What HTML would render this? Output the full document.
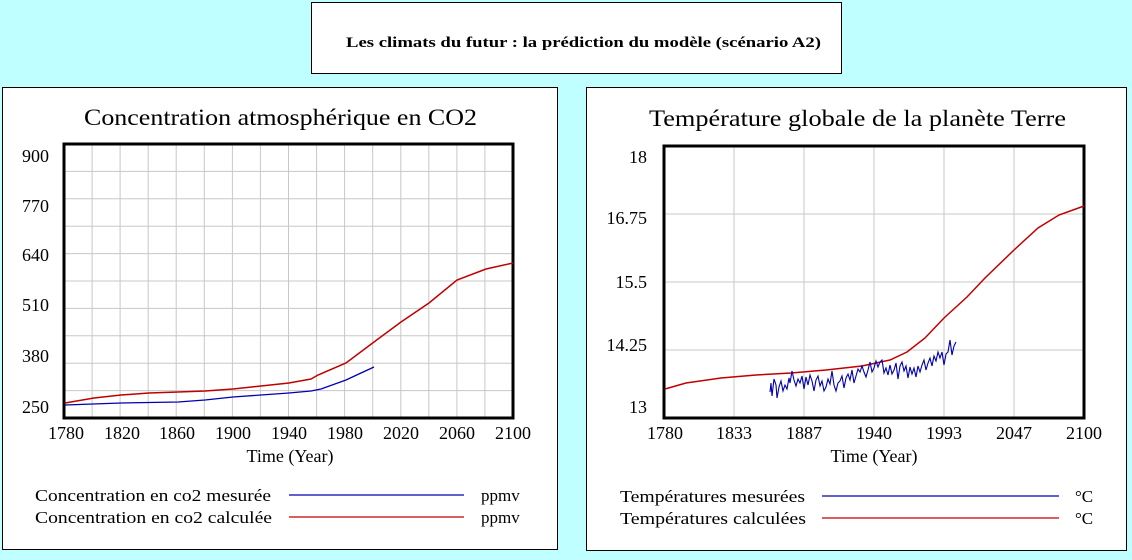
<!DOCTYPE html>
<html><head><meta charset="utf-8"><style>
html,body{margin:0;padding:0;background:#c0ffff;}
svg{display:block;font-family:"Liberation Serif",serif;}
</style></head><body>
<svg width="1132" height="560" viewBox="0 0 1132 560" xmlns="http://www.w3.org/2000/svg">
<rect x="0" y="0" width="1132" height="560" fill="#c0ffff"/>
<rect x="311.5" y="2.5" width="530" height="71" fill="#fff" stroke="#000" stroke-width="1"/>
<text x="346" y="47" font-size="15" font-weight="bold" textLength="475" lengthAdjust="spacingAndGlyphs">Les climats du futur : la prédiction du modèle (scénario A2)</text>

<!-- left panel -->
<rect x="2.5" y="87.5" width="555" height="462" fill="#fff" stroke="#000" stroke-width="1"/>
<text x="84" y="125" font-size="23" textLength="393" lengthAdjust="spacingAndGlyphs">Concentration atmosphérique en CO2</text>
<g stroke="#c8c8c8" stroke-width="1">
<path d="M92.1 144V418M120.1 144V418M148.2 144V418M176.2 144V418M204.3 144V418M232.4 144V418M260.4 144V418M288.5 144V418M316.6 144V418M344.6 144V418M372.7 144V418M400.8 144V418M428.8 144V418M456.9 144V418M484.9 144V418"/>
<path d="M64 171.4H513M64 198.8H513M64 226.2H513M64 253.6H513M64 281H513M64 308.4H513M64 335.8H513M64 363.2H513M64 390.6H513"/>
</g>
<rect x="64" y="144" width="449" height="274" fill="none" stroke="#000" stroke-width="3"/>
<polyline fill="none" stroke="#c00000" stroke-width="1.5" points="65,403 94,398 121,395 149,393 178,392 205,391 233,389 261,386 289,383 311,379 318,375 346,363 374,342 401,322 429,303 457,280 486,269 513,263"/>
<polyline fill="none" stroke="#0000b0" stroke-width="1.3" points="65,405 121,403 178,402 205,400 233,397 261,395 289,393 311,391 321,389 346,380 361,373 374,367"/>
<g font-size="18" text-anchor="end">
<text x="49" y="162">900</text><text x="49" y="212">770</text><text x="49" y="261">640</text><text x="49" y="311">510</text><text x="49" y="362">380</text><text x="49" y="413">250</text>
</g>
<g font-size="18" text-anchor="middle">
<text x="66" y="439">1780</text><text x="122" y="439">1820</text><text x="177" y="439">1860</text><text x="233" y="439">1900</text><text x="289" y="439">1940</text><text x="345" y="439">1980</text><text x="401" y="439">2020</text><text x="457" y="439">2060</text><text x="513" y="439">2100</text>
<text x="290" y="462">Time (Year)</text>
</g>
<g font-size="17">
<text x="35" y="501" textLength="236" lengthAdjust="spacingAndGlyphs">Concentration en co2 mesurée</text>
<text x="35" y="523" textLength="237" lengthAdjust="spacingAndGlyphs">Concentration en co2 calculée</text>
<text x="481" y="501">ppmv</text><text x="481" y="523">ppmv</text>
</g>
<line x1="289" y1="495" x2="464" y2="495" stroke="#0000b0" stroke-width="1.3"/>
<line x1="289" y1="517" x2="464" y2="517" stroke="#c00000" stroke-width="1.3"/>

<!-- right panel -->
<rect x="586.5" y="87.5" width="540" height="463" fill="#fff" stroke="#000" stroke-width="1"/>
<text x="649" y="126" font-size="23" textLength="417" lengthAdjust="spacingAndGlyphs">Température globale de la planète Terre</text>
<g stroke="#c8c8c8" stroke-width="1">
<path d="M734 146V418M804 146V418M874 146V418M944 146V418M1014 146V418"/>
<path d="M664 214H1084M664 282H1084M664 350H1084"/>
</g>
<rect x="664" y="146" width="420" height="272" fill="none" stroke="#000" stroke-width="3"/>
<polyline fill="none" stroke="#c00000" stroke-width="1.5" points="665,389 686,383 721,378 756,375 791,373 826,370 862,366 890,360 907,352 925,338 944,318 967,297 985,278 1014,250 1038,228 1059,215 1084,206"/>
<polyline fill="none" stroke="#0000b0" stroke-width="1.1" points="770,392 771,383 772,396 774,379 776,385 777,398 779,387 781,381 783,391 785,385 787,389 789,378 790,383 792,371 794,380 796,386 798,379 800,383 802,376 804,389 806,377 808,385 810,375 812,381 814,391 816,380 818,376 820,386 822,381 824,391 826,387 828,379 830,384 832,371 834,385 836,391 838,383 840,381 842,376 844,388 846,378 848,374 850,380 852,370 854,383 856,376 858,369 860,372 862,366 864,372 866,377 868,370 870,362 872,372 874,368 876,361 878,367 880,362 882,360 884,373 886,368 888,375 890,365 892,374 894,370 896,363 898,379 900,366 902,362 904,371 906,366 908,378 910,367 912,374 914,368 916,377 918,366 920,372 922,365 924,360 926,370 928,363 930,358 932,366 934,356 936,361 938,352 940,358 942,352 944,365 946,354 948,352 950,340 952,355 954,346 956,342"/>
<g font-size="18" text-anchor="end">
<text x="647" y="163">18</text><text x="647" y="224">16.75</text><text x="647" y="288">15.5</text><text x="647" y="351">14.25</text><text x="647" y="413">13</text>
</g>
<g font-size="18" text-anchor="middle">
<text x="665" y="439">1780</text><text x="734" y="439">1833</text><text x="804" y="439">1887</text><text x="874" y="439">1940</text><text x="944" y="439">1993</text><text x="1014" y="439">2047</text><text x="1084" y="439">2100</text>
<text x="874" y="462">Time (Year)</text>
</g>
<g font-size="17">
<text x="620" y="502" textLength="185" lengthAdjust="spacingAndGlyphs">Températures mesurées</text>
<text x="620" y="524" textLength="186" lengthAdjust="spacingAndGlyphs">Températures calculées</text>
<text x="1075" y="502">°C</text><text x="1075" y="524">°C</text>
</g>
<line x1="822" y1="496" x2="1059" y2="496" stroke="#0000b0" stroke-width="1.3"/>
<line x1="822" y1="518" x2="1059" y2="518" stroke="#c00000" stroke-width="1.3"/>
</svg>
</body></html>
